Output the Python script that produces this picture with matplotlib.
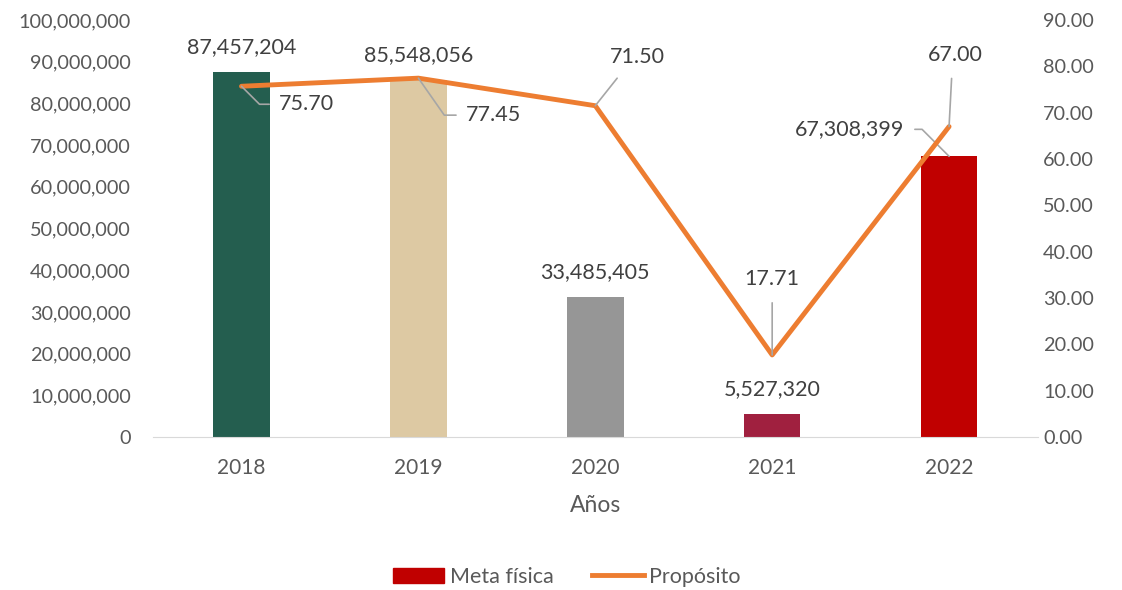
import matplotlib.pyplot as plt
from matplotlib.ticker import FuncFormatter, MultipleLocator
from matplotlib.patches import Patch
from matplotlib.lines import Line2D

# --- DATA ---

years = ['2018', '2019', '2020', '2021', '2022']
meta_fisica = [87457204, 85548056, 33485405, 5527320, 67308399]
proposito = [75.70, 77.45, 71.50, 17.71, 67.00]
bar_colors = ['#245E4F', '#DDC9A3', '#969696', '#A0203F', '#C00000']

# --- STYLE ---

plt.rcParams['font.family'] = ['Lato', 'DejaVu Sans']
tick_color = '#595959'
label_color = '#404040'
leader_color = '#A6A6A6'
line_color = '#ED7D31'

fig = plt.figure(figsize=(11.22, 5.9), dpi=100)
ax = fig.add_axes([0.1364, 0.2593, 0.7883, 0.7068])
ax2 = ax.twinx()

x = list(range(len(years)))
ax.bar(x, meta_fisica, width=0.32, color=bar_colors, zorder=2)
ax.set_xlim(-0.5, len(years) - 0.5)
ax.set_ylim(0, 100_000_000)
ax.yaxis.set_major_locator(MultipleLocator(10_000_000))
ax.yaxis.set_major_formatter(FuncFormatter(lambda v, p: f'{v:,.0f}'))
ax.set_xticks(x)
ax.set_xticklabels(years)
ax.set_xlabel('Años', fontsize=16.5, color=tick_color, labelpad=12)

ax2.plot(x, proposito, color=line_color, lw=3.5, solid_capstyle='round', zorder=3)
ax2.set_ylim(0, 90)
ax2.yaxis.set_major_locator(MultipleLocator(10))
ax2.yaxis.set_major_formatter(FuncFormatter(lambda v, p: f'{v:.2f}'))

for a in (ax, ax2):
    for s in a.spines.values():
        s.set_visible(False)
    a.tick_params(length=0, labelsize=14.3, colors=tick_color)
ax.spines['bottom'].set_visible(True)
ax.spines['bottom'].set_color('#D9D9D9')
ax.tick_params(axis='y', pad=16)
ax.tick_params(axis='x', labelsize=15, pad=15)
ax2.tick_params(axis='y', pad=4)

lab_size = 15.5

# bar labels
for i, v in enumerate(meta_fisica[:4]):
    ax.annotate(f'{v:,}', (i, v), xytext=(0, 25), textcoords='offset pixels',
                ha='center', va='center', fontsize=lab_size, color=label_color)
# 2022 bar label with leader
ax.annotate(f'{meta_fisica[4]:,}', (4, meta_fisica[4]), xytext=(-100, 27),
            textcoords='offset pixels', ha='center', va='center', fontsize=lab_size,
            color=label_color,
            arrowprops=dict(arrowstyle='-', color=leader_color, lw=1.2,
                            relpos=(1, 0.5), shrinkA=6, shrinkB=0,
                            connectionstyle='angle,angleA=0,angleB=-45,rad=0'))

# line labels
line_specs = [
    ((65, -18), (0, 0.5), 'angle,angleA=0,angleB=-45,rad=0'),
    ((75, -37), (0, 0.5), 'angle,angleA=0,angleB=-55,rad=0'),
    ((42, 49), (0.3, 0), 'arc3,rad=0'),
    ((0, 76), (0.5, 0), 'arc3,rad=0'),
    ((6, 72), (0.45, 0), 'arc3,rad=0'),
]
for i, v in enumerate(proposito):
    off, rp, cs = line_specs[i]
    ax2.annotate(f'{v:.2f}', (i, v), xytext=off, textcoords='offset pixels',
                 ha='center', va='center', fontsize=lab_size, color=label_color,
                 arrowprops=dict(arrowstyle='-', color=leader_color, lw=1.2,
                                 relpos=rp, shrinkA=8 if rp[1] == 0 else 5,
                                 shrinkB=0, connectionstyle=cs))

handles = [Patch(color='#C00000'), Line2D([0], [0], color=line_color, lw=3.5)]
fig.legend(handles, ['Meta física', 'Propósito'], loc='center',
           bbox_to_anchor=(0.505, 0.022), ncol=2, frameon=False, fontsize=15.5,
           labelcolor=tick_color, handlelength=2.4, columnspacing=1.8,
           handletextpad=0.25)

fig.savefig('out.png', dpi=100)
